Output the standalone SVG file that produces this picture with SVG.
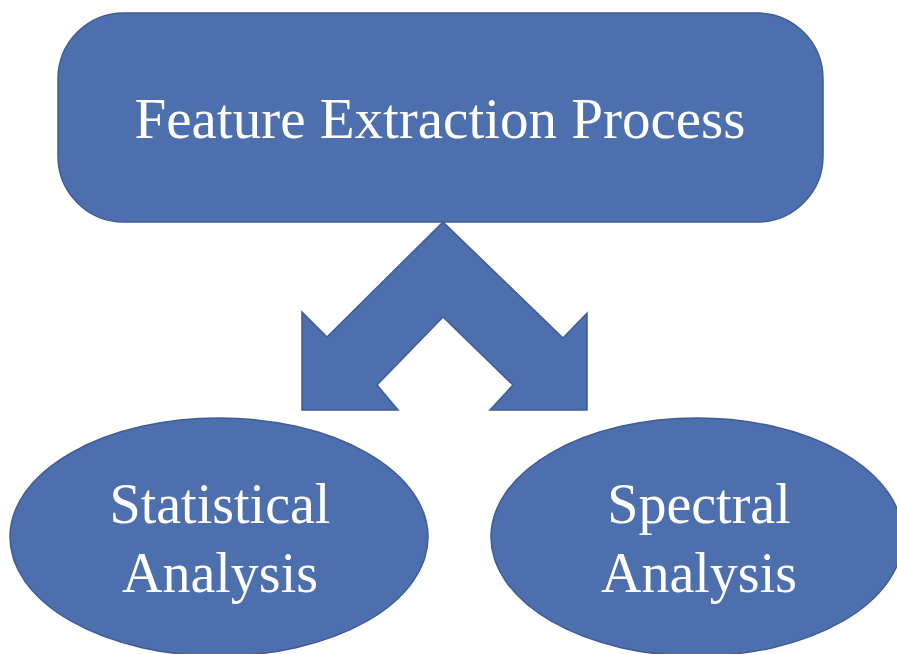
<svg xmlns="http://www.w3.org/2000/svg" width="897" height="654" viewBox="0 0 897 654">
  <style>
    .shape { fill: #4d6fae; stroke: #3e5c96; stroke-width: 1.5; }
    .label { fill: #ffffff; font-family: "Liberation Serif", "Times New Roman", serif; font-size: 56px; text-anchor: middle; }
    .title { font-size: 57px; }
  </style>
  <rect width="897" height="654" fill="#ffffff"/>

  <g id="feature-extraction">
    <rect class="shape" x="58" y="13" width="765" height="209" rx="66" ry="66"/>
    <text class="label title" x="440" y="138">Feature Extraction Process</text>
  </g>

  <g id="connectors">
    <!-- split arrow: one bent shape branching down-left and down-right -->
    <path class="shape" d="M443,222 L563,338 L587,313 L587,410 L490,410 L513,385 L443,317 L377,385 L398,410 L302,410 L302,312 L327,337 Z"/>
  </g>

  <g id="statistical-analysis">
    <ellipse class="shape" cx="219" cy="537" rx="209" ry="119"/>
    <text class="label" x="220" y="523">Statistical</text>
    <text class="label" x="220" y="592">Analysis</text>
  </g>

  <g id="spectral-analysis">
    <ellipse class="shape" cx="697" cy="537" rx="206" ry="119"/>
    <text class="label" x="699" y="523">Spectral</text>
    <text class="label" x="699" y="592">Analysis</text>
  </g>
</svg>
